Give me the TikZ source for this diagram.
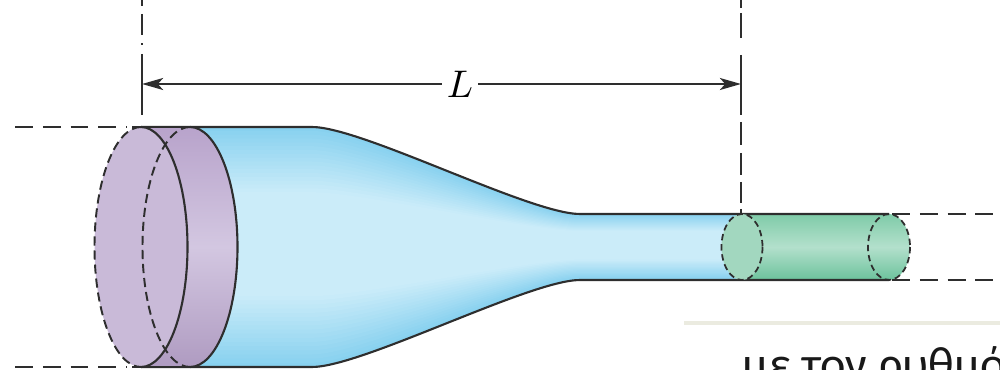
\documentclass[tikz,border=0pt]{standalone}
\usepackage{fontspec}
\newfontfamily\greekfont{Carlito}
\usetikzlibrary{arrows.meta}
\definecolor{ink}{HTML}{2E2E2E}
\definecolor{blueEdge}{HTML}{88D1EF}
\definecolor{blueLight}{HTML}{CBECF9}
\definecolor{lilacFace}{HTML}{C9BAD8}
\definecolor{lilacEdge}{HTML}{B8A3CB}
\definecolor{lilacMid}{HTML}{D3C7E1}
\definecolor{greenTop}{HTML}{7FCBA8}
\definecolor{greenMid}{HTML}{B3E0CC}
\definecolor{greenBot}{HTML}{6CC29C}
\definecolor{greenFace}{HTML}{A2D7BF}
\definecolor{rule}{HTML}{EBEBE0}
\begin{document}
\begin{tikzpicture}[x=0.01cm,y=-0.01cm,
  outline/.style={draw=ink,line width=0.6pt},
  hidden/.style={draw=ink,line width=0.55pt,dash pattern=on 2.6pt off 1.4pt},
  smallhidden/.style={draw=ink,line width=0.5pt,dash pattern=on 1.8pt off 1.1pt},
  guide/.style={draw=ink,line width=0.6pt,dash pattern=on 5.1pt off 2.8pt},
  ext/.style={draw=ink,line width=0.5pt},
  dimline/.style={draw=ink,line width=0.65pt,-{Stealth[length=6pt,width=3.4pt,inset=1.5pt]}}]
\useasboundingbox (0,0) rectangle (1000,370);
\clip (0,0) rectangle (1000,370);

% tapering tube: stacked fills give a light band along the axis
\foreach \i in {0,...,29}{
  \pgfmathsetmacro\s{1-\i/30}
  \pgfmathsetmacro\p{min(100,\i*6)}
  \fill[blueLight!\p!blueEdge]
    (150,{242+\s*(127-242)}) -- (312,{242+\s*(127-242)})
    .. controls (362,{242+\s*(127-242)}) and (530,{244+\s*(214-244)}) .. (580,{244+\s*(214-244)})
    -- (742,{244+\s*(214-244)}) -- (742,{244+\s*(280-244)}) -- (580,{244+\s*(280-244)})
    .. controls (530,{244+\s*(280-244)}) and (362,{242+\s*(367-242)}) .. (312,{242+\s*(367-242)})
    -- (150,{242+\s*(367-242)}) -- cycle;
}

% small cylinder at the outlet
\shade[top color=greenTop,bottom color=greenBot,middle color=greenMid]
  (742,214) -- (889,214) arc[start angle=-90,end angle=90,x radius=21,y radius=33]
  -- (742,280) -- cycle;

% tube outline, top and bottom
\draw[outline] (141,127) -- (312,127) .. controls (362,127) and (530,214) .. (580,214) -- (889,214);
\draw[outline] (141,367) -- (312,367) .. controls (362,367) and (530,280) .. (580,280) -- (889,280);

% outlet faces
\draw[smallhidden] (889,247) ellipse[x radius=21,y radius=33];
\fill[greenFace] (742,247) ellipse[x radius=20.5,y radius=33];
\draw[smallhidden] (742,247) ellipse[x radius=20.5,y radius=33];

% inlet disc: side band and front face
\shade[top color=lilacEdge,bottom color=lilacEdge!95!black,middle color=lilacMid]
  (141,127) -- (190,127) arc[start angle=-90,end angle=90,x radius=47.5,y radius=120]
  -- (141,367) arc[start angle=90,end angle=-90,x radius=46.5,y radius=120] -- cycle;
\fill[lilacFace] (141,247) ellipse[x radius=46.5,y radius=120];
\draw[hidden] (190,127) arc[start angle=-90,end angle=-270,x radius=47.5,y radius=120];
\draw[hidden] (141,127) arc[start angle=-90,end angle=-270,x radius=46.5,y radius=120];
\draw[outline] (141,127) arc[start angle=-90,end angle=90,x radius=46.5,y radius=120];
\draw[outline] (190,127) arc[start angle=-90,end angle=90,x radius=47.5,y radius=120];
\draw[outline] (132,127) -- (190,127);
\draw[outline] (132,367) -- (190,367);

% diameter guides
\draw[guide] (15,127) -- (127,127);
\draw[guide] (15,367) -- (127,367);
\draw[guide] (892,214) -- (1000,214);
\draw[guide] (892,280) -- (1000,280);

% extension lines for the length
\foreach \a/\b in {0/6,14/35,43.5/45.5,54/115}
  \draw[ext] (142,\a) -- (142,\b);
\foreach \a/\b in {0/8,13/38,55/115,122/145,153/175,182/203,209/214}
  \draw[ext] (741,\a) -- (741,\b);

% length dimension
\coordinate (dimL) at (142,84);
\coordinate (dimR) at (741,84);
\node[inner sep=1.3pt,font=\fontsize{11}{13}\selectfont] (lab) at (460,84) {$L$};
\draw[dimline] (lab.west) -- (dimL);
\draw[dimline] (lab.east) -- (dimR);

% slide rule and text below
\draw[rule,line width=1.1pt] (684,323) -- (1000,323);
\node[anchor=base west,inner sep=0pt,text=black!90,font=\greekfont\fontsize{13.7}{16}\selectfont] (caption) at (742,380) {με τον ρυθμό};
\end{tikzpicture}
\end{document}
